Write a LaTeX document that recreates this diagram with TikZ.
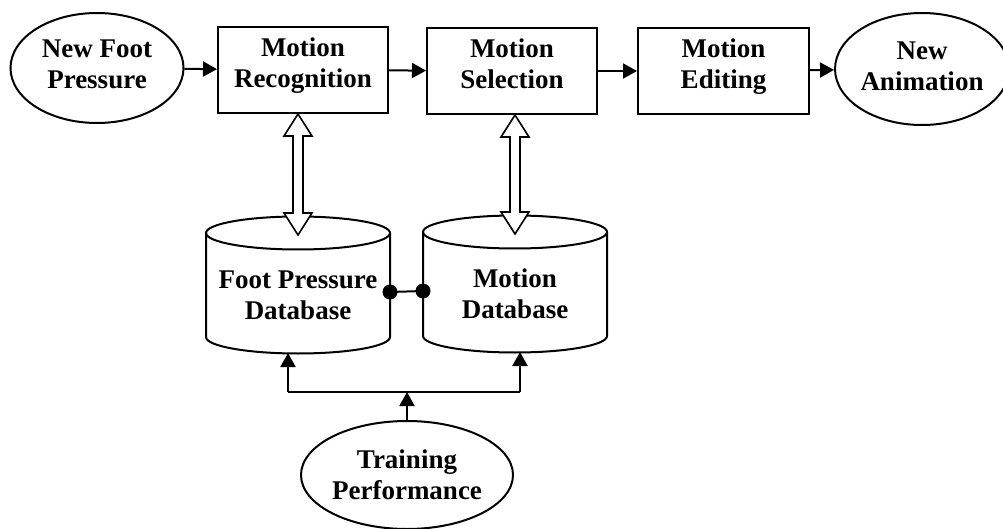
\documentclass[tikz,border=0pt]{standalone}
\usepackage{fontspec}
\setmainfont{Liberation Serif}
\usepackage{tikz}
\usetikzlibrary{positioning, shapes, arrows.meta, calc}
\newcommand{\lblfont}{\fontsize{27}{31}\selectfont\bfseries}
% hollow two-headed link between two points on one vertical
\newcommand{\dbllink}[2]{%
  \draw[hollow] let \p1=(#1), \p2=(#2) in
    (\x1,\y1) -- (\x1+14pt,\y1-22pt) -- (\x1+5pt,\y1-22pt) -- (\x1+5pt,\y2+22pt)
    -- (\x1+14pt,\y2+22pt) -- (\x1,\y2) -- (\x1-14pt,\y2+22pt) -- (\x1-5pt,\y2+22pt)
    -- (\x1-5pt,\y1-22pt) -- (\x1-14pt,\y1-22pt) -- cycle;
}
\tikzset{
  dbcyl/.pic={
    \draw[line width=2pt] (-92,-52) -- (-92,52)
      arc[start angle=180, end angle=360, x radius=92pt, y radius=16.5pt] -- (92,-52);
    \draw[line width=2pt] (0,-52) ellipse[x radius=92pt, y radius=16.5pt];
    \node[font=\lblfont, align=center] (-txt) at (0,10) {#1};
    \coordinate (-top) at (0,-50);
    \coordinate (-bot) at (0,68);
    \coordinate (-w) at (-92,7);
    \coordinate (-e) at (92,7);
  }
}

\begin{document}
\begin{tikzpicture}[x=1pt, y=-1pt,
  box/.style={draw, line width=2pt, rectangle, minimum width=170, minimum height=86,
              align=center, font=\lblfont, text depth=15pt},
  oval/.style={draw, line width=2pt, ellipse, inner sep=0pt, align=center, font=\lblfont},
  flow/.style={-{Triangle[length=14pt, width=15pt]}, line width=2pt},
  hollow/.style={draw, fill=white, line width=1.6pt}
]
  \useasboundingbox (0,0) rectangle (1003,529);
  \node[oval, minimum width=173, minimum height=110, text depth=8pt] (nfp) at (97,68) {New Foot\\Pressure};
  \node[box] (rec) at (303,70) {Motion\\Recognition};
  \node[box] (sel) at (512,71) {Motion\\Selection};
  \node[box, minimum width=171] (edit) at (723.5,71) {Motion\\Editing};
  \node[oval, minimum width=161, minimum height=112, text depth=6pt] (nani) at (922,69) {New\\Animation};
  \draw[flow] (nfp) -- (rec);
  \draw[flow] (rec) -- (sel);
  \draw[flow] (sel) -- (edit);
  \draw[flow] (edit) -- (nani);

  \pic (fp) at (298,285) {dbcyl={Foot Pressure\\Database}};
  \pic (md) at (515,284) {dbcyl={Motion\\Database}};
  \draw[line width=2pt] (fp-e) -- (md-w);
  \fill (fp-e) circle (7.5pt);
  \fill (md-w) circle (7.5pt);

  \dbllink{rec.south -| fp-top}{fp-top}
  \dbllink{sel.south -| md-top}{md-top}

  \node[oval, minimum width=198, minimum height=108] (tp) at (407,475) {Training\\Performance};
  \coordinate (lft) at (288,392);
  \coordinate (rgt) at (520,392);
  \draw[line width=2pt] (lft) -- (rgt);
  \draw[flow] (lft) -- (lft |- fp-bot);
  \draw[flow] (rgt) -- (rgt |- md-bot);
  \draw[flow] (tp.north) -- (tp.north |- lft);
\end{tikzpicture}
\end{document}
